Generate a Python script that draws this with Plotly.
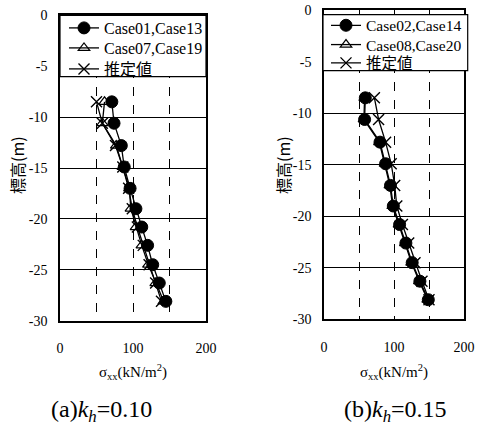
import plotly.graph_objects as go

# ---- data ----
depth = [-8.5, -10.6, -12.8, -14.9, -17.0, -19.0, -20.8, -22.6, -24.5, -26.3, -28.1]

# (a) kh = 0.10
case01_13 = [71, 74, 84, 88, 96, 104, 112, 120, 127, 136, 145]
case07_19 = [61, 58, 77, 86, 95, 97, 104, 112, 121, 131, 142]
estimate_a = [50, 58, 76, 86, 94, 99, 106, 114, 122, 131, 139]

# (b) kh = 0.15
case02_14 = [59, 58, 80, 88, 95, 99, 108, 117, 126, 137, 149]
case08_20 = [58, 57, 79, 87, 94, 98, 107, 116, 125, 136, 148]
estimate_b = [72, 78, 88, 96, 101, 104, 112, 121, 130, 140, 150]

names_a = ["Case01,Case13", "Case07,Case19", "推定値"]
names_b = ["Case02,Case14", "Case08,Case20", "推定値"]

x_tickvals = [0, 50, 100, 150, 200]
x_ticktext = ["0", "", "100", "", "200"]
y_tickvals = [0, -5, -10, -15, -20, -25, -30]
y_ticktext = ["0", "-5", "-10", "-15", "-20", "-25", "-30"]

W, H = 483, 434
SERIF = "'Liberation Serif', 'Times New Roman', 'DejaVu Serif', serif"
CJK = "'Noto Sans CJK JP'"
LEGFONT = "'Liberation Serif', 'Times New Roman', 'Noto Sans CJK JP', serif"

fig = go.Figure()


def px_x(p):
    return p / W


def px_y(p):
    return (H - p) / H


def add_series(xa, ya, vals_list, names, legends):
    styles = [
        dict(symbol="circle", size=12, color="black", line=dict(color="black", width=1)),
        dict(symbol="triangle-up-open", size=10, color="black", line=dict(color="black", width=1.2)),
        dict(symbol="x-thin-open", size=11, color="black", line=dict(color="black", width=1.4)),
    ]
    for vals, nm, st, lg in zip(vals_list, names, styles, legends):
        fig.add_trace(go.Scatter(
            x=vals, y=depth, mode="lines+markers", name=nm,
            xaxis=xa, yaxis=ya, legend=lg,
            line=dict(color="black", width=1.3),
            marker=st,
        ))


add_series("x", "y", [case01_13, case07_19, estimate_a], names_a,
           ["legend", "legend2", "legend3"])
add_series("x2", "y2", [case02_14, case08_20, estimate_b], names_b,
           ["legend4", "legend5", "legend6"])

axis_common = dict(
    showline=True, linecolor="black", linewidth=1.5, mirror=True,
    ticks="", zeroline=False, automargin=False,
    tickfont=dict(family=SERIF, size=14, color="black"),
    showgrid=True, gridcolor="black", gridwidth=1,
)


def leg(xp, yp, size=16):
    return dict(x=px_x(xp), y=px_y(yp), xanchor="left", yanchor="middle",
                bgcolor="rgba(0,0,0,0)", borderwidth=0,
                font=dict(family=LEGFONT, size=size, color="black"),
                itemwidth=30)


def note(text, xp, yp, family, size, angle=0):
    return dict(text=text, x=px_x(xp), y=px_y(yp), xref="paper", yref="paper",
                xanchor="center", yanchor="middle", textangle=angle,
                showarrow=False, font=dict(family=family, size=size, color="black"))


fig.update_layout(
    template="none",
    width=W, height=H,
    margin=dict(l=0, r=0, t=0, b=0, autoexpand=False),
    paper_bgcolor="white", plot_bgcolor="white",
    font=dict(family=SERIF, color="black"),
    showlegend=True,
    xaxis=dict(domain=[px_x(60), px_x(206)], range=[0, 200], anchor="y",
               tickvals=x_tickvals, ticktext=x_ticktext, griddash="dash",
               ticklabelstandoff=14, **axis_common),
    yaxis=dict(domain=[px_y(320.7), px_y(15.3)], range=[-30, 0], anchor="x",
               tickvals=y_tickvals, ticktext=y_ticktext,
               ticklabelstandoff=8, **axis_common),
    xaxis2=dict(domain=[px_x(324), px_x(464)], range=[0, 200], anchor="y2",
                tickvals=x_tickvals, ticktext=x_ticktext, griddash="dash",
                ticklabelstandoff=14, **axis_common),
    yaxis2=dict(domain=[px_y(319.3), px_y(10.3)], range=[-30, 0], anchor="x2",
                tickvals=y_tickvals, ticktext=y_ticktext,
                ticklabelstandoff=8, **axis_common),
    legend=leg(64, 28),
    legend2=leg(64, 48),
    legend3=leg(64, 69),
    legend4=leg(326, 25.7, 15.5),
    legend5=leg(326, 45, 15.5),
    legend6=leg(326, 63.3, 15.5),
    shapes=[
        dict(type="rect", xref="paper", yref="paper",
             x0=px_x(60), x1=px_x(206), y0=px_y(76.7), y1=px_y(15.3),
             fillcolor="white", line=dict(color="black", width=1.2), layer="above"),
        dict(type="rect", xref="paper", yref="paper",
             x0=px_x(323), x1=px_x(467.7), y0=px_y(70.7), y1=px_y(14.7),
             fillcolor="white", line=dict(color="black", width=1.2), layer="above"),
    ],
    annotations=[
        note("標高(m)", 17, 165, CJK, 16, -90),
        note("標高(m)", 283, 165, CJK, 16, -90),
        note("σ<sub>xx</sub>(kN/m<sup>2</sup>)", 133, 372, SERIF, 15),
        note("σ<sub>xx</sub>(kN/m<sup>2</sup>)", 394, 372, SERIF, 15),
        note("(a)<i>k<sub>h</sub></i>=0.10", 101, 411, SERIF, 24),
        note("(b)<i>k<sub>h</sub></i>=0.15", 395, 411, SERIF, 24),
    ],
)

fig.write_html(
    "out.html",
    config={"displayModeBar": False},
    post_script="document.body.style.margin='0';document.body.style.padding='0';"
                "document.body.style.overflow='hidden';",
)
